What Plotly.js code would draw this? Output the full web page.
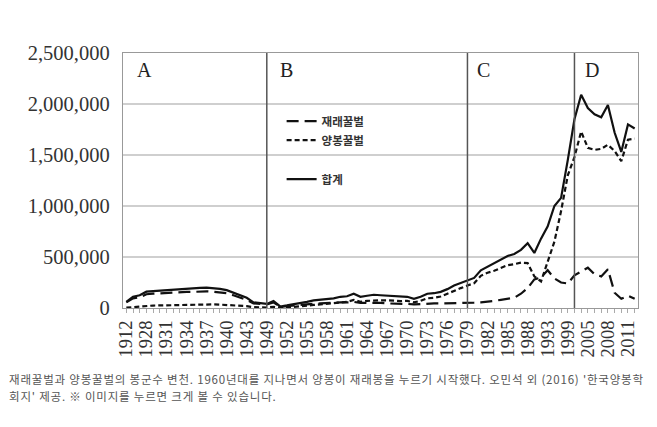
<!DOCTYPE html>
<html>
<head>
<meta charset="utf-8">
<script src="https://cdn.plot.ly/plotly-3.0.1.min.js"></script>
<style>
html,body{margin:0;padding:0;background:#fff;}
#chart{width:657px;height:427px;position:absolute;left:0;top:0;}
.cap{position:absolute;left:9px;width:650px;font-family:"Noto Sans CJK KR","Noto Sans",sans-serif;font-size:11.5px;line-height:17px;height:17px;color:#555;letter-spacing:0.8px;white-space:nowrap;}
</style>
</head>
<body>
<div id="chart"></div>
<div class="cap" style="top:371px;">재래꿀벌과 양봉꿀벌의 봉군수 변천. 1960년대를 지나면서 양봉이 재래봉을 누르기 시작했다. 오민석 외 (2016) '한국양봉학</div>
<div class="cap" style="top:388px;">회지' 제공. ※ 이미지를 누르면 크게 볼 수 있습니다.</div>
<script>
// categories (years); blank-labelled ones are estimated
const years = [
 '1912','1918','1925','1928','1929','1930','1931','1932','1933','1934',
 '1935','1936','1937','1938','1939','1940','1941','1942','1943','1945',
 '1947','1949','1950','1951','1952','1953','1954','1955','1956','1957',
 '1958','1959','1960','1961','1962','1963','1964','1965','1966','1967',
 '1968','1969','1970','1971','1972','1973','1974','1975','1976','1977',
 '1978','1979','1980','1981','1982','1983','1984','1985','1986','1987',
 '1988','1990','1991','1993','1995','1997','1999','2001','2003','2005',
 '2006','2007','2008','2009','2010','2011','2012'];

const tickLabels = ['1912','1928','1931','1934','1937','1940','1943','1949','1952','1955',
 '1958','1961','1964','1967','1970','1973','1976','1979','1982','1985','1988','1993',
 '1999','2005','2008','2011'];

// 재래꿀벌 (native bees)
const native = [
 55000,95000,105000,135000,140000,145000,150000,152000,155000,158000,
 158000,162000,163000,160000,155000,145000,125000,100000,80000,45000,
 40000,35000,55000,12000,18000,25000,32000,38000,42000,45000,
 50000,50000,55000,55000,60000,50000,50000,55000,50000,45000,
 45000,40000,40000,35000,40000,45000,45000,45000,45000,48000,
 50000,50000,52000,55000,60000,70000,80000,90000,100000,140000,
 195000,280000,300000,370000,290000,250000,240000,320000,360000,395000,
 330000,310000,380000,150000,90000,120000,90000];

// 양봉꿀벌 (western bees)
const western = [
 3000,10000,15000,22000,24000,25000,27000,28000,30000,32000,
 33000,35000,36000,35000,33000,30000,27000,22000,18000,8000,
 5000,5000,12000,3000,6000,10000,15000,22000,30000,35000,
 40000,45000,55000,60000,80000,60000,70000,75000,75000,75000,
 70000,68000,70000,55000,70000,95000,100000,113000,140000,170000,
 195000,220000,243000,315000,345000,365000,390000,420000,430000,445000,
 440000,310000,260000,450000,650000,950000,1300000,1480000,1730000,1570000,
 1550000,1560000,1600000,1540000,1440000,1650000,1660000];

// 합계 (total)
const total = [
 60000,110000,125000,160000,165000,170000,178000,182000,185000,190000,
 192000,198000,200000,195000,188000,175000,150000,120000,100000,55000,
 45000,40000,68000,15000,25000,35000,48000,60000,75000,80000,
 90000,95000,110000,115000,140000,110000,120000,130000,125000,120000,
 115000,108000,110000,90000,110000,140000,145000,158000,185000,220000,
 245000,270000,295000,370000,405000,435000,470000,510000,530000,570000,
 635000,540000,680000,800000,1000000,1080000,1450000,1850000,2090000,1960000,
 1900000,1870000,1990000,1720000,1530000,1800000,1760000];

const periodStarts = ['1949','1979','2001'];
const periodLabels = ['A','B','C','D'];

const ticktext = years.map(y => tickLabels.includes(y) ? y : '');

const traces = [
 {x: years, y: native, name: '재래꿀벌', type: 'scatter', mode: 'lines',
  line: {color: '#111', width: 2.2, dash: '12px,6px'}, legendgroup: 'a'},
 {x: years, y: western, name: '양봉꿀벌', type: 'scatter', mode: 'lines',
  line: {color: '#111', width: 2.2, dash: '5px,3px'}, legendgroup: 'a'},
 {x: years, y: total, name: '합계', type: 'scatter', mode: 'lines',
  line: {color: '#111', width: 2.2}, legendgroup: 'b'}
];

const shapes = periodStarts.map(p => ({
 type: 'line', xref: 'x', yref: 'paper', x0: years.indexOf(p), x1: years.indexOf(p), y0: 0, y1: 1,
 line: {color: '#555', width: 1.5}
}));

const labelX = [0.024, 0.30, 0.684, 0.894];
const annotations = periodLabels.map((t, i) => ({
 text: t, xref: 'paper', yref: 'paper', x: labelX[i], y: 0.932,
 xanchor: 'left', yanchor: 'middle', showarrow: false,
 font: {family: 'Liberation Serif, serif', size: 20, color: '#222'}
}));

const layout = {
 width: 657, height: 427,
 margin: {l: 123, r: 19, t: 53, b: 119},
 paper_bgcolor: 'rgba(0,0,0,0)', plot_bgcolor: '#fff',
 showlegend: true,
 legend: {x: 0.308, y: 0.79, xanchor: 'left', yanchor: 'top',
  bgcolor: 'rgba(0,0,0,0)', traceorder: 'grouped', tracegroupgap: 20,
  font: {family: 'Noto Sans CJK KR, sans-serif', size: 11.5, color: '#333', weight: 'bold'}},
 xaxis: {type: 'category', range: [-0.5, 76.5], tickmode: 'array',
  tickvals: years, ticktext: ticktext, tickangle: -90,
  ticks: 'outside', ticklen: 4, tickcolor: '#aaa', tickwidth: 1,
  showgrid: false, zeroline: false, showline: true, mirror: true, linecolor: '#999', linewidth: 1.2,
  automargin: false,
  tickfont: {family: 'Liberation Serif, serif', size: 18.5, color: '#333'}},
 yaxis: {range: [0, 2500000], tickvals: [0, 500000, 1000000, 1500000, 2000000, 2500000],
  ticktext: ['0', '500,000', '1,000,000', '1,500,000', '2,000,000', '2,500,000'],
  showgrid: true, gridcolor: '#cfcfcf', gridwidth: 1.5, zeroline: false,
  showline: true, mirror: true, linecolor: '#999', linewidth: 1.2,
  ticks: '', ticklabelstandoff: 8, automargin: false,
  tickfont: {family: 'Liberation Serif, serif', size: 20.5, color: '#333'}},
 shapes: shapes, annotations: annotations
};

Plotly.newPlot('chart', traces, layout, {displayModeBar: false, staticPlot: true});
</script>
</body>
</html>
